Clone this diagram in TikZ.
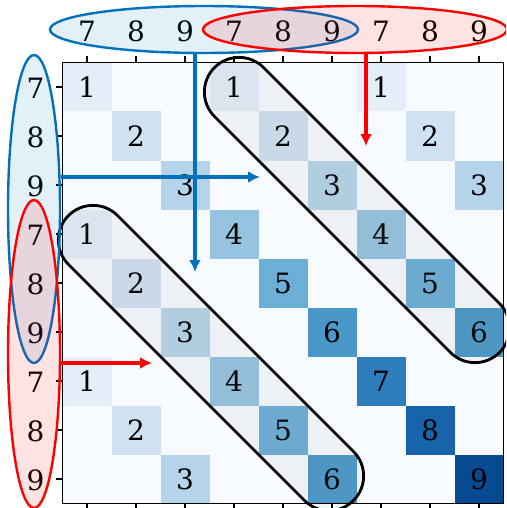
\documentclass[tikz,border=0pt]{standalone}
\usepackage{fontspec}
\setmainfont{DejaVu Serif}
\usetikzlibrary{shapes.geometric,shapes.misc,arrows.meta}
\definecolor{mblue}{RGB}{0,114,189}
\definecolor{mred}{RGB}{255,0,0}
\definecolor{b0}{RGB}{247,251,255}
\definecolor{b1}{RGB}{227,238,249}
\definecolor{b2}{RGB}{208,225,242}
\definecolor{b3}{RGB}{182,212,233}
\definecolor{b4}{RGB}{148,196,223}
\definecolor{b5}{RGB}{107,174,214}
\definecolor{b6}{RGB}{74,152,201}
\definecolor{b7}{RGB}{46,126,188}
\definecolor{b8}{RGB}{23,100,171}
\definecolor{b9}{RGB}{8,74,146}
\tikzset{
  every node/.style={font=\fontsize{28}{32}\selectfont},
  cellbox/.style={minimum width=49pt,minimum height=49pt,inner sep=0pt,draw=none},
  lab/.style={inner sep=0pt},
  tickmark/.style={line width=1.5pt,black},
  band/.style={rounded rectangle,draw=black,line width=2.8pt,fill=gray,fill opacity=0.08,inner sep=0pt,minimum height=69.3pt,minimum width=403pt,rotate=-45},
  ell/.style={ellipse,inner sep=0pt,line width=2.4pt,fill opacity=0.11},
  arr/.style={line width=3.2pt,-{Latex[length=12pt,width=12pt]}}
}
\begin{document}
\begin{tikzpicture}[x=1pt,y=-1pt]
\useasboundingbox (0,0) rectangle (506,508);
\clip (0,0) rectangle (506,508);
% heat map
\fill[b0] (62.5,62.5) rectangle (503.5,503.5);
\foreach \r/\c/\v in {0/0/1,0/3/1,0/6/1,1/1/2,1/4/2,1/7/2,2/2/3,2/5/3,2/8/3,
  3/0/1,3/3/4,3/6/4,4/1/2,4/4/5,4/7/5,5/2/3,5/5/6,5/8/6,
  6/0/1,6/3/4,6/6/7,7/1/2,7/4/5,7/7/8,8/2/3,8/5/6,8/8/9}
  \node[cellbox,fill=b\v] (cell\r\c) at ({87+49*\c},{87+49*\r}) {\v};
% bands
\node[band] (bandU) at (357,210) {};
\node[band] (bandL) at (211,358) {};
% ticks
\foreach \k in {0,...,8} {
  \draw[tickmark] (62.5,{87+49*\k}) -- ++(-6.5,0);
  \draw[tickmark] ({87+49*\k},62.5) -- ++(0,-6.5);
  \draw[tickmark] ({87+49*\k},503.5) -- ++(0,7);
}
\draw[line width=1.6pt] (62.5,62.5) rectangle (503.5,503.5);
% tick labels
\foreach \k/\t in {0/7,1/8,2/9,3/7,4/8,5/9,6/7,7/8,8/9} {
  \node[lab] (tx\k) at ({87+49*\k},31) {\t};
  \node[lab] (ly\k) at (35.5,{88.5+49*\k}) {\t};
}
% ellipses
\node[ell,draw=mblue,fill=mblue,minimum width=308pt,minimum height=47pt] (topB) at (204,29.5) {};
\node[ell,draw=mred,fill=mred,minimum width=304pt,minimum height=47pt] (topR) at (355,29.5) {};
\node[ell,draw=mblue,fill=mblue,minimum width=52pt,minimum height=308pt] (leftB) at (34,209) {};
\node[ell,draw=mred,fill=mred,minimum width=52pt,minimum height=308pt] (leftR) at (34,354) {};
% arrows
\coordinate (bvE) at (195,272);
\coordinate (bhE) at (260,177);
\coordinate (rvE) at (366,146);
\coordinate (rhE) at (152,363);
\draw[arr,mblue] (topB.south -| bvE) -- (bvE);
\draw[arr,mblue] (leftB.east |- bhE) -- (bhE);
\draw[arr,mred] (topR.south -| rvE) -- (rvE);
\draw[arr,mred] (leftR.east |- rhE) -- (rhE);
\end{tikzpicture}
\end{document}
